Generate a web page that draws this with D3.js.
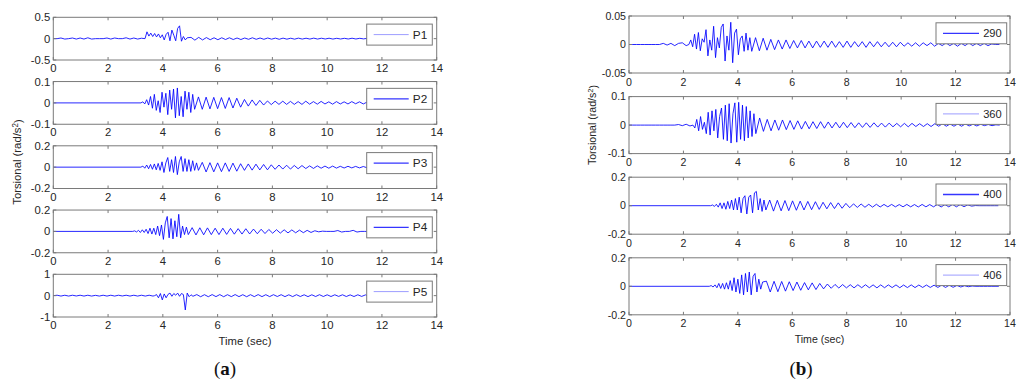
<!DOCTYPE html>
<html>
<head>
<meta charset="utf-8">
<script src="https://cdn.jsdelivr.net/npm/d3@7.9.0/dist/d3.min.js"></script>
<style>
  html, body { margin: 0; padding: 0; background: #fff; }
  svg { display: block; font-family: "Liberation Sans", Arial, sans-serif; }
</style>
</head>
<body>
<svg id="chart" width="1024" height="388"></svg>
<script>
// ---------- data ----------
const timeTicks = [0, 2, 4, 6, 8, 10, 12, 14];

// (a) stations
const leftNames = ['P1', 'P2', 'P3', 'P4', 'P5'];
const leftLimits = [0.5, 0.1, 0.2, 0.2, 1];
const leftOnsets = [3.35, 3.2, 3.2, 2.9, 3.7];
const leftLight = [true, false, false, false, true];

// (b) stations
const rightNames = ['290', '360', '400', '406'];
const rightLimits = [0.05, 0.1, 0.2, 0.2];
const rightOnsets = [2.2, 2.35, 3.0, 2.95];
const rightLight = [false, true, false, true];

// sampling steps: quiet part / strong motion / coda
const PRE_DT = 0.14, BURST_DT = 0.07, TAIL_DT = 0.14;

const p1Pre = [0, 0, 0.015, -0.01, 0, 0.015, -0.01, 0.015, -0.01, 0.02, -0.01, 0, 0, 0, 0.015, -0.01, 0.015, 0, 0, 0.02, -0.01, 0.015, -0.01, 0.01];
const p1Burst = [0, 0.16, 0.06, 0.13, 0.05, 0.12, 0.04, 0.11, 0.02, 0.09, -0.03, 0.1, 0.15, -0.05, 0.2, 0.08, -0.05, 0.24, 0.3, -0.06, 0.05, -0.03, 0.02];
const p1Tail = [0.03, -0.035, 0.03, -0.03, 0.025, -0.025, 0.02, -0.025, 0.02, -0.02,
  0.02, -0.02, 0.015, -0.02, 0.015, -0.015, 0.02, -0.015, 0.015, -0.015,
  0.015, -0.012, 0.012, -0.015, 0.012, -0.012, 0.01, -0.012, 0.012, -0.01,
  0.01, -0.01, 0.012, -0.01, 0.01, -0.008, 0.01, -0.01, 0.008, -0.008,
  0.008, -0.008, 0.01, -0.008, 0.008, -0.006, 0.008, -0.008, 0.006, -0.006,
  0.006, -0.006, 0.005, -0.006, 0.006, -0.005, 0.005, -0.004, 0.004, -0.004, 0.003, 0];

const p2Pre = [];
const p2Burst = [0, 0.005, -0.005, 0.015, -0.01, 0.03, -0.025, 0.04, -0.035, 0.01, -0.045, 0.05, -0.02, 0.045, -0.055, 0.06, -0.03, 0.065, -0.07, 0.07, -0.06, 0.03, -0.065, 0.055, -0.03, 0.05, -0.045, 0.04, -0.03];
const p2Tail = [0.028, -0.03, 0.027, -0.028, 0.026, -0.027, 0.025, -0.026, 0.025, -0.024,
  0.022, -0.02, 0.016, -0.015, 0.014, -0.012, 0.012, -0.01, 0.009, -0.008,
  0.008, -0.007, 0.008, -0.007, 0.007, -0.007, 0.006, -0.007, 0.008, -0.006,
  0.006, -0.006, 0.007, -0.005, 0.005, -0.006, 0.006, -0.005, 0.005, -0.005,
  0.006, -0.004, 0.005, -0.005, 0.004, -0.004, 0.005, -0.004, 0.004, -0.004,
  0.004, -0.003, 0.003, -0.003, 0.003, -0.003, 0.003, -0.002, 0.002, 0];

const p3Pre = [];
const p3Burst = [0, 0.01, -0.01, 0.02, -0.015, 0.025, -0.02, 0.03, -0.025, 0.035, -0.03, 0.05, -0.05, 0.04, 0.09, -0.04, 0.07, -0.05, 0.1, -0.07, 0.05, 0.1, -0.04, 0.08, -0.04, 0.07, -0.04, 0.06, -0.03, 0.04, -0.03];
const p3Tail = [0.045, -0.045, 0.042, -0.044, 0.04, -0.042, 0.04, -0.04, 0.038, -0.038,
  0.032, -0.03, 0.03, -0.028, 0.028, -0.026, 0.025, -0.025, 0.022, -0.02,
  0.02, -0.018, 0.018, -0.018, 0.016, -0.015, 0.015, -0.013, 0.012, -0.012,
  0.012, -0.01, 0.01, -0.01, 0.01, -0.009, 0.008, -0.008, 0.008, -0.007,
  0.007, -0.007, 0.006, -0.006, 0.006, -0.005, 0.005, -0.005, 0.005, -0.004,
  0.004, -0.004, 0.003, -0.003, 0.003, -0.002, 0.002, -0.002, 0];

const p4Pre = [];
const p4Burst = [0, 0.005, -0.005, 0.01, -0.01, 0.015, -0.01, 0.02, -0.02, 0.03, -0.025, 0.03, -0.03, 0.05, -0.04, 0.06, -0.075, 0.08, 0.14, -0.06, 0.12, -0.07, 0.1, -0.05, 0.16, -0.06, 0.05, -0.03, 0.04, -0.03];
const p4Tail = [0.035, -0.033, 0.034, -0.032, 0.033, -0.03, 0.03, -0.03, 0.03, -0.028,
  0.028, -0.026, 0.026, -0.025, 0.025, -0.024, 0.022, -0.022, 0.02, -0.02,
  0.018, -0.017, 0.016, -0.016, 0.015, -0.014, 0.014, -0.013, 0.012, -0.012,
  0.01, -0.01, 0.006, -0.004, 0.002, 0, 0, 0, 0.008, -0.006,
  0, 0, 0.01, -0.006, 0, 0, 0, 0, 0, 0,
  0, 0, 0, 0, 0, 0, 0, 0, 0, 0, 0];

const p5Pre = [0, 0.02, -0.02, 0.02, -0.02, 0.02, -0.015, 0.02, -0.02, 0.02, -0.02, 0.015, -0.02, 0.02, -0.02, 0.02, -0.02, 0.02, -0.015, 0.02, -0.02, 0.02, -0.02, 0.02, -0.02, 0.02, -0.02];
const p5Burst = [0, 0.05, -0.1, 0.1, -0.2, 0.08, -0.1, 0.06, 0.12, -0.03, 0.1, 0.02, 0.12, -0.03, 0.1, 0.05, -0.67, 0.12, -0.05, 0.04, -0.03];
const p5Tail = [0.05, -0.05, 0.045, -0.05, 0.05, -0.045, 0.05, -0.05, 0.045, -0.045,
  0.05, -0.045, 0.045, -0.05, 0.045, -0.045, 0.05, -0.045, 0.045, -0.045,
  0.045, -0.04, 0.045, -0.045, 0.04, -0.045, 0.045, -0.04, 0.04, -0.045,
  0.04, -0.04, 0.045, -0.04, 0.04, -0.04, 0.04, -0.035, 0.04, -0.04,
  0.035, -0.04, 0.04, -0.035, 0.035, -0.035, 0.04, -0.035, 0.035, -0.035,
  0.03, -0.035, 0.035, -0.03, 0.03, -0.03, 0.03, -0.025, 0.02, 0];

const s290Pre = [0, 0, 0, 0, 0, 0, 0, 0, 0, 0.002, -0.001, 0.002, -0.002, 0.002, 0.003, -0.002];
const s290Burst = [0, 0.008, -0.004, 0.018, -0.008, 0.021, -0.011, 0.01, 0.004, 0.026, -0.02, 0.008, -0.01, 0.032, -0.023, 0.012, -0.006, 0.03, 0.036, -0.029, 0.015, -0.01, 0.039, -0.032, 0.02, 0.027, -0.018, 0.01, 0.015, -0.012, 0.02, -0.01, 0.012, -0.012];
const s290Tail = [0.012, -0.011, 0.011, -0.01, 0.009, -0.009, 0.008, -0.008, 0.008, -0.007,
  0.007, -0.006, 0.007, -0.006, 0.006, -0.006, 0.006, -0.005, 0.006, -0.005,
  0.006, -0.005, 0.005, -0.005, 0.006, -0.005, 0.005, -0.004, 0.005, -0.005,
  0.005, -0.004, 0.005, -0.004, 0.004, -0.004, 0.004, -0.004, 0.004, -0.003,
  0.003, -0.003, 0.003, -0.003, 0.003, -0.002, 0.003, -0.003, 0.002, -0.002,
  0.003, -0.002, 0.002, -0.003, 0.002, -0.002, 0.003, -0.002, 0.002, -0.002,
  0.002, -0.002, 0.001, 0, 0];

const s360Pre = [0, 0, 0, 0, 0, 0, 0, 0, 0, 0, 0, 0, 0, 0.002, -0.002, 0.003, -0.003];
const s360Burst = [0, -0.01, 0.02, -0.02, 0.03, -0.015, 0.01, -0.03, 0.045, -0.035, 0.05, -0.02, 0.055, -0.045, 0.03, 0.06, -0.05, 0.07, -0.055, 0.075, -0.063, 0.04, 0.078, -0.06, 0.08, -0.05, 0.07, -0.055, 0.065, -0.045, 0.05, -0.04, 0.04, -0.03];
const s360Tail = [0.025, -0.022, 0.02, -0.02, 0.018, -0.018, 0.018, -0.016, 0.016, -0.015,
  0.015, -0.014, 0.013, -0.013, 0.012, -0.012, 0.012, -0.011, 0.011, -0.01,
  0.01, -0.01, 0.01, -0.009, 0.009, -0.009, 0.008, -0.008, 0.008, -0.008,
  0.008, -0.007, 0.007, -0.007, 0.007, -0.006, 0.006, -0.006, 0.006, -0.006,
  0.006, -0.005, 0.005, -0.005, 0.005, -0.005, 0.005, -0.004, 0.005, -0.004,
  0.004, -0.004, 0.004, -0.004, 0.004, -0.003, 0.003, -0.003, 0.003, -0.002,
  0.002, -0.002, 0.001, 0];

const s400Pre = [];
const s400Burst = [0, 0.005, -0.005, 0.01, -0.01, 0.02, -0.02, 0.02, -0.025, 0.03, -0.02, 0.04, -0.03, 0.05, -0.03, 0.06, -0.05, 0.05, 0.07, -0.058, 0.06, 0.075, -0.05, 0.09, 0.1, -0.03, 0.05, -0.04, 0.04, -0.03];
const s400Tail = [0.04, -0.038, 0.038, -0.036, 0.036, -0.035, 0.034, -0.032, 0.032, -0.03,
  0.03, -0.028, 0.028, -0.026, 0.024, -0.022, 0.022, -0.02, 0.02, -0.018,
  0.016, -0.014, 0.013, -0.012, 0.012, -0.011, 0.01, -0.01, 0.01, -0.009,
  0.009, -0.008, 0.009, -0.008, 0.008, -0.008, 0.009, -0.008, 0.008, -0.009,
  0.009, -0.008, 0.008, -0.008, 0.009, -0.009, 0.008, -0.008, 0.009, -0.008,
  0.008, -0.007, 0.006, -0.003, 0.001, 0, 0, 0, 0, 0, 0];

const s406Pre = [];
const s406Burst = [0, 0.005, -0.005, 0.01, -0.01, 0.02, -0.015, 0.02, -0.02, 0.025, -0.02, 0.04, -0.03, 0.06, -0.04, 0.05, -0.05, 0.08, -0.06, 0.09, -0.04, 0.1, -0.06, 0.07, 0.09, -0.04, 0.05, -0.02, 0.03];
const s406Tail = [0.036, -0.04, 0.035, -0.038, 0.034, -0.034, 0.032, -0.03, 0.03, -0.028,
  0.026, -0.025, 0.024, -0.023, 0.02, -0.018, 0.016, -0.014, 0.013, -0.012,
  0.012, -0.011, 0.011, -0.011, 0.011, -0.01, 0.011, -0.01, 0.01, -0.011,
  0.01, -0.01, 0.01, -0.009, 0.01, -0.01, 0.009, -0.009, 0.01, -0.009,
  0.009, -0.008, 0.009, -0.008, 0.008, -0.008, 0.009, -0.008, 0.008, -0.007,
  0.006, -0.005, 0.004, -0.003, 0.002, 0, 0, 0, 0, 0, 0, 0];

const leftSeries = [
  [p1Pre, p1Burst, p1Tail], [p2Pre, p2Burst, p2Tail], [p3Pre, p3Burst, p3Tail],
  [p4Pre, p4Burst, p4Tail], [p5Pre, p5Burst, p5Tail]
];
const rightSeries = [
  [s290Pre, s290Burst, s290Tail], [s360Pre, s360Burst, s360Tail],
  [s400Pre, s400Burst, s400Tail], [s406Pre, s406Burst, s406Tail]
];

// ---------- helpers ----------
function toPoints([pre, burst, tail], onset) {
  const pts = [];
  if (pre.length) pre.forEach((v, i) => pts.push([i * PRE_DT, v]));
  else pts.push([0, 0]);
  burst.forEach((v, i) => pts.push([onset + i * BURST_DT, v]));
  const t1 = onset + (burst.length - 1) * BURST_DT + TAIL_DT;
  tail.forEach((v, i) => pts.push([t1 + i * TAIL_DT, v]));
  return pts;
}

const svg = d3.select('#chart');
const AXIS = '#7a7a7a', INK = '#262626', TRACE = '#0000ff';
const fmt = d => d === 0 ? '0' : String(d);

function drawPanel(cfg) {
  const x = d3.scaleLinear().domain([0, 14]).range([cfg.left, cfg.right]);
  cfg.names.forEach((name, k) => {
    const top = cfg.top0 + k * cfg.step, bottom = top + cfg.h;
    const lim = cfg.limits[k];
    const y = d3.scaleLinear().domain([-lim, lim]).range([bottom, top]);
    const g = svg.append('g');

    // trace
    const pts = toPoints(cfg.series[k], cfg.onsets[k]);
    g.append('path')
      .datum(pts)
      .attr('fill', 'none')
      .attr('stroke', TRACE)
      .attr('stroke-width', 0.85)
      .attr('d', d3.line().x(d => x(d[0])).y(d => y(d[1])));

    // box
    g.append('rect')
      .attr('x', cfg.left).attr('y', top)
      .attr('width', cfg.right - cfg.left).attr('height', cfg.h)
      .attr('fill', 'none').attr('stroke', AXIS).attr('stroke-width', 1);

    // x ticks (inward, bottom + top) and labels
    const xt = g.append('g');
    timeTicks.forEach(t => {
      xt.append('line').attr('x1', x(t)).attr('x2', x(t)).attr('y1', bottom).attr('y2', bottom - 3).attr('stroke', AXIS);
      xt.append('line').attr('x1', x(t)).attr('x2', x(t)).attr('y1', top).attr('y2', top + 3).attr('stroke', AXIS);
    });
    g.append('g').selectAll('text').data(timeTicks).join('text')
      .attr('x', d => x(d)).attr('y', bottom + cfg.xLabOff)
      .attr('text-anchor', 'middle').attr('font-size', cfg.fs).attr('fill', INK)
      .text(d => d);

    // y ticks and labels
    const yTicks = [-lim, 0, lim];
    yTicks.forEach(v => {
      g.append('line').attr('x1', cfg.left).attr('x2', cfg.left + 3).attr('y1', y(v)).attr('y2', y(v)).attr('stroke', AXIS);
      g.append('line').attr('x1', cfg.right).attr('x2', cfg.right - 3).attr('y1', y(v)).attr('y2', y(v)).attr('stroke', AXIS);
    });
    g.append('g').selectAll('text').data(yTicks).join('text')
      .attr('x', cfg.left - 3).attr('y', d => y(d)).attr('dy', '0.35em')
      .attr('text-anchor', 'end').attr('font-size', cfg.fs).attr('fill', INK)
      .text(fmt);

    // legend
    const lx0 = cfg.right - cfg.legW - cfg.legR, ly0 = top + 6.8;
    g.append('rect').attr('x', lx0).attr('y', ly0).attr('width', cfg.legW).attr('height', 21)
      .attr('fill', '#fff').attr('stroke', AXIS);
    g.append('line')
      .attr('x1', lx0 + 7).attr('x2', lx0 + 7 + cfg.legLine)
      .attr('y1', ly0 + 10.5).attr('y2', ly0 + 10.5)
      .attr('stroke', cfg.light[k] ? '#9d9dff' : '#3535ff')
      .attr('stroke-width', cfg.light[k] ? 1 : 1.3);
    g.append('text').attr('x', lx0 + cfg.legW - 5).attr('y', ly0 + 10.5).attr('dy', '0.35em')
      .attr('text-anchor', 'end').attr('font-size', cfg.fs + 0.5).attr('fill', INK)
      .text(name);
  });

  // axis titles
  const lastBottom = cfg.top0 + (cfg.names.length - 1) * cfg.step + cfg.h;
  svg.append('text')
    .attr('x', (cfg.left + cfg.right) / 2).attr('y', lastBottom + cfg.xTitleOff)
    .attr('text-anchor', 'middle').attr('font-size', cfg.fs).attr('fill', INK)
    .text('Time (sec)');
  const yl = svg.append('text')
    .attr('transform', `translate(${cfg.yTitleX},${cfg.yTitleY}) rotate(-90)`)
    .attr('text-anchor', 'middle').attr('font-size', cfg.fs).attr('fill', INK);
  yl.append('tspan').text('Torsional (rad/s');
  yl.append('tspan').attr('dy', '-0.4em').attr('font-size', cfg.fs * 0.72).text('2');
  yl.append('tspan').attr('dy', '0.4em').text(')');

  // panel tag
  const tag = svg.append('text')
    .attr('x', cfg.tagX).attr('y', 375)
    .attr('text-anchor', 'middle').attr('font-size', 19)
    .attr('font-family', '"Liberation Serif", "DejaVu Serif", serif').attr('fill', '#111');
  tag.append('tspan').text('(');
  tag.append('tspan').attr('font-weight', 'bold').text(cfg.tag);
  tag.append('tspan').text(')');
}

drawPanel({
  names: leftNames, limits: leftLimits, onsets: leftOnsets, series: leftSeries, light: leftLight,
  left: 53.3, right: 436.7, top0: 17.3, step: 64.25, h: 42.7,
  fs: 11.3, xLabOff: 12, xTitleOff: 28, yTitleX: 21, yTitleY: 162,
  legW: 65.6, legR: 4.4, legLine: 35, tagX: 225, tag: 'a'
});
drawPanel({
  names: rightNames, limits: rightLimits, onsets: rightOnsets, series: rightSeries, light: rightLight,
  left: 629, right: 1010, top0: 16, step: 80.6, h: 57,
  fs: 10.6, xLabOff: 12.5, xTitleOff: 28, yTitleX: 596, yTitleY: 125,
  legW: 70.7, legR: 3.3, legLine: 36, tagX: 801, tag: 'b'
});
</script>
</body>
</html>
